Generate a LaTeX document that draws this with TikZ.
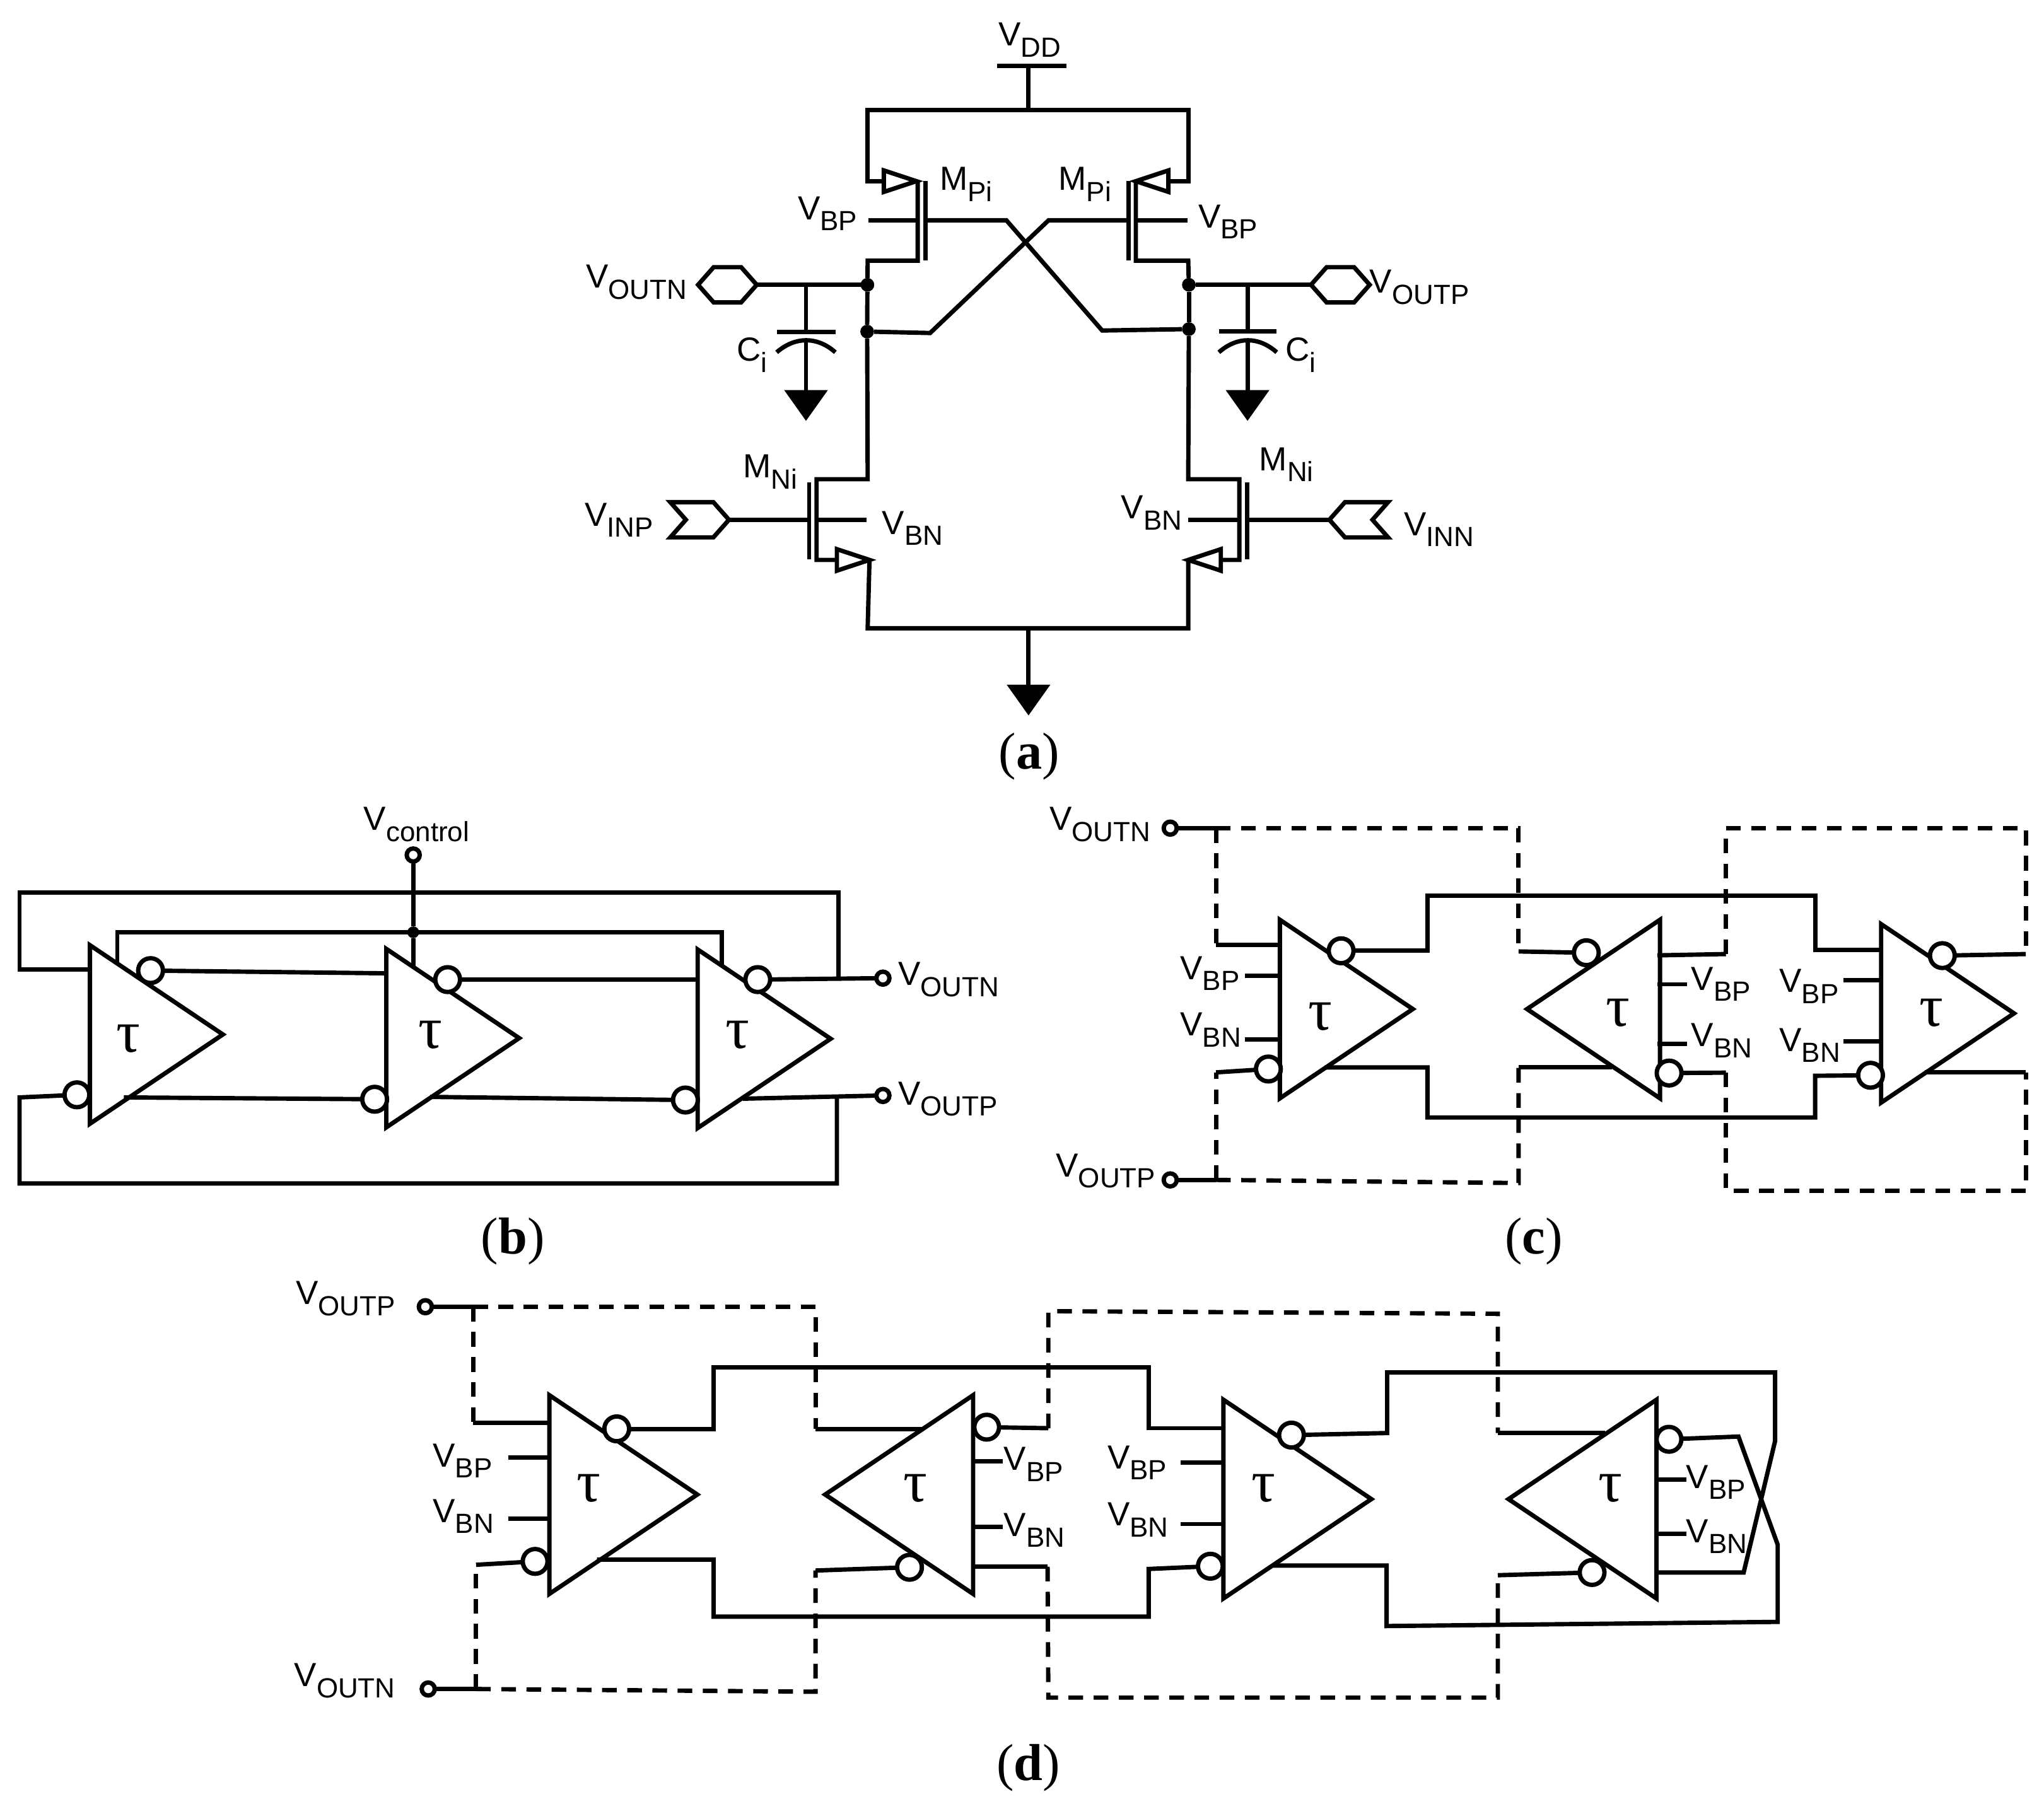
\documentclass[tikz,border=0pt]{standalone}
\usepackage{fontspec}
\setmainfont{Liberation Sans}
\newfontfamily\capfont{Liberation Serif}
\usetikzlibrary{shapes.geometric,shapes.symbols}

\newcommand{\vsig}[2]{#1\raisebox{-4.8pt}{\fontsize{12.1}{12}\selectfont #2}}

\tikzset{
	sig/.style={anchor=base west,inner sep=0pt,xshift=-.9pt,font=\fontsize{14.6}{16}\selectfont},
	figcap/.style={anchor=base,inner sep=0pt,font=\capfont\fontsize{22.7}{24}\selectfont},
	tau/.style={inner sep=0pt,font=\capfont\fontsize{26}{28}\selectfont},
	ampb/.style={isosceles triangle,isosceles triangle stretches,draw,anchor=apex,inner sep=0pt,outer sep=0pt,minimum width=2.74cm,minimum height=2.04cm},
	ampd/.style={ampb,minimum width=3.05cm,minimum height=2.27cm},
	mosarrow/.style={isosceles triangle,isosceles triangle stretches,draw,fill=white,anchor=apex,inner sep=0pt,outer sep=0pt,minimum width=.33cm,minimum height=.5cm},
	gnd/.style={isosceles triangle,isosceles triangle stretches,draw,fill=black,anchor=apex,shape border rotate=270,inner sep=0pt,outer sep=0pt,minimum width=.54cm,minimum height=.38cm},
	port/.style={signal,draw,inner sep=0pt,outer sep=0pt,signal pointer angle=97,minimum width=.9cm,minimum height=.54cm},
	bub/.style={circle,draw,fill=white,inner sep=0pt,outer sep=0pt,minimum size=.38cm},
	term/.style={circle,draw,fill=white,inner sep=0pt,outer sep=0pt,minimum size=.2cm},
	dot/.style={circle,fill=black,inner sep=0pt,outer sep=0pt,minimum size=.21cm},
	dashline/.style={dash pattern=on 6.4pt off 4.6pt},
}

\begin{document}
\begin{tikzpicture}[x=0.02cm,y=-0.02cm,line width=1.9pt]

	\useasboundingbox (0,0) rectangle (1568,1383.7);

	% (a)
	\node	(avdd)	at	(766,35.2)	[sig]{\vsig{V}{DD}};
	\node	(aoutn)	at	(449.5,221)	[sig]{\vsig{V}{OUTN}};
	\node	(aoutp)	at	(1050.7,224.8)	[sig]{\vsig{V}{OUTP}};
	\node	(abpl)	at	(612,168.5)	[sig]{\vsig{V}{BP}};
	\node	(abpr)	at	(919.2,174.8)	[sig]{\vsig{V}{BP}};
	\node	(ampl)	at	(721,146)	[sig]{\vsig{M}{Pi}};
	\node	(ampr)	at	(812,146)	[sig]{\vsig{M}{Pi}};
	\node	(acil)	at	(565,277)	[sig]{\vsig{C}{i}};
	\node	(acir)	at	(986,277)	[sig]{\vsig{C}{i}};
	\node	(amnl)	at	(570,366.6)	[sig]{\vsig{M}{Ni}};
	\node	(amnr)	at	(966,361)	[sig]{\vsig{M}{Ni}};
	\node	(ainp)	at	(448.5,403.6)	[sig]{\vsig{V}{INP}};
	\node	(ainn)	at	(1077,411)	[sig]{\vsig{V}{INN}};
	\node	(abnl)	at	(676.6,410)	[sig]{\vsig{V}{BN}};
	\node	(abnr)	at	(860,398)	[sig]{\vsig{V}{BN}};

	\node	(apl)	at	(703,139)	[mosarrow]{};
	\node	(apr)	at	(871.3,139)	[mosarrow,shape border rotate=180]{};
	\node	(anl)	at	(667,429.6)	[mosarrow]{};
	\node	(anr)	at	(911.5,429.6)	[mosarrow,shape border rotate=180]{};

	\node	(agl)	at	(618.3,320)	[gnd]{};
	\node	(agr)	at	(957,320)	[gnd]{};
	\node	(agm)	at	(789,546)	[gnd]{};

	\node	(hexl)	at	(558,218.5)	[port,signal to=east and west,signal from=nowhere]{};
	\node	(hexr)	at	(1028.2,218.5)	[port,signal to=east and west,signal from=nowhere]{};
	\node	(chl)	at	(536.7,398.8)	[port,signal to=east,signal from=west]{};
	\node	(chr)	at	(1042.3,398.8)	[port,signal to=west,signal from=east]{};

	\node	(dtl)	at	(665.4,218.5)	[dot]{};
	\node	(dbl)	at	(665.2,254.4)	[dot]{};
	\node	(dtr)	at	(912,218.5)	[dot]{};
	\node	(dbr)	at	(912,252.5)	[dot]{};

	\coordinate	(avt)	at	(789,50.7);
	\coordinate	(avb)	at	(789,84.4);
	\coordinate	(agt)	at	(789,482);

	\draw	(765,50.7)	--	(818,50.7);
	\draw	(avt)	--	(avb);
	\draw	(apl.lower side)	--	(665.6,139)	--	(665.6,84.4)	--	(911.5,84.4)	--	(911.5,139)	--	(apr.lower side);

	\draw	(704,139)	--	(704,200)	--	(665.6,200)	--	(dtl);
	\draw	(710,139)	--	(710,200);
	\draw	(871.3,139)	--	(871.3,200)	--	(911.5,200)	--	(dtr);
	\draw	(865.6,139)	--	(865.6,200);

	\draw	(666,169)	--	(704,169);
	\draw	(710,169)	--	(772,169)	--	(845.5,253.6)	--	(dbr);
	\draw	(dbl)	--	(713.5,255.5)	--	(804.4,169)	--	(865.6,169);
	\draw	(871.3,169)	--	(911,169);

	\draw	(dtl)	--	(dbl);
	\draw	(dtr)	--	(dbr);
	\draw	(hexl.east)	--	(dtl);
	\draw	(dtr)	--	(hexr.west);

	\draw	(618.3,218.5)	--	(618.3,254.8);
	\draw	(595.8,254.8)	--	(640.8,254.8);
	\draw	(595.8,270.3)	..	controls (610,258) and (627,258)	..	(640.8,270.3);
	\draw	(618.3,261.4)	--	(agl.lower side);

	\draw	(957,218.5)	--	(957,254.4);
	\draw	(935,254.4)	--	(979.4,254.4);
	\draw	(935,270.3)	..	controls (949,258) and (965.5,258)	..	(979.4,270.3);
	\draw	(957,261.4)	--	(agr.lower side);

	\draw	(dbl)	--	(665.6,367.7)	--	(626.4,367.7)	--	(626.4,429.6)	--	(anl.lower side);
	\draw	(620.7,370)	--	(620.7,429);
	\draw	(dbr)	--	(911.5,367.7)	--	(950.7,367.7)	--	(950.7,429.6)	--	(anr.lower side);
	\draw	(956.5,370)	--	(956.5,429);

	\draw	(chl.east)	--	(620.7,398.8);
	\draw	(626.4,398.8)	--	(664.7,398.8);
	\draw	(chr.west)	--	(956.5,398.8);
	\draw	(950.7,398.8)	--	(911.5,398.8);

	\draw	(anl.apex)	--	(665.6,482)	--	(911.5,482)	--	(anr.apex);
	\draw	(agt)	--	(agm.lower side);

	\node	(capa)	at	(789.5,590)	[figcap]{(\textbf{a})};

	% (b)
	\node	(bt1)	at	(171,793.7)	[ampb]{};
	\node	(bt2)	at	(398.3,796.5)	[ampb]{};
	\node	(bt3)	at	(637.2,797)	[ampb]{};

	\node	(bu1)	at	(98.5,797)	[tau]{τ};
	\node	(bu2)	at	(330,794)	[tau]{τ};
	\node	(bu3)	at	(566,794)	[tau]{τ};

	\node	(bo1)	at	(115.5,744.7)	[bub]{};
	\node	(bo2)	at	(343.4,751.6)	[bub]{};
	\node	(bo3)	at	(581.3,751.6)	[bub]{};
	\node	(bi1)	at	(59,840)	[bub]{};
	\node	(bi2)	at	(287.4,843.4)	[bub]{};
	\node	(bi3)	at	(525.8,844)	[bub]{};

	\node	(bctl)	at	(317,656)	[term]{};
	\node	(bout)	at	(677.3,750.5)	[term]{};
	\node	(boup)	at	(677.3,840.5)	[term]{};
	\node	(bdot)	at	(317,715.3)	[dot,minimum size=.18cm]{};

	\node	(bvc)	at	(279,637)	[sig]{\vsig{V}{control}};
	\node	(bvn)	at	(689,756)	[sig]{\vsig{V}{OUTN}};
	\node	(bvp)	at	(689,847.7)	[sig]{\vsig{V}{OUTP}};

	\coordinate	(bj1)	at	(68.5,744);
	\coordinate	(bj2)	at	(643.2,749.8);
	\coordinate	(bj3)	at	(642,841);
	\coordinate	(bg1)	at	(90,739);
	\coordinate	(bg2)	at	(317,741);
	\coordinate	(bg3)	at	(553.8,740);

	\draw	(bctl)	--	(bdot);
	\draw	(bdot)	--	(bg2);
	\draw	(bg1)	--	(90,715.3)	--	(553.8,715.3)	--	(bg3);
	\draw	(bj1)	--	(15,744)	--	(15,684.6)	--	(643.2,684.6)	--	(bj2);
	\draw	(bo1)	--	(297.4,746.8);
	\draw	(bo2)	--	(535.8,751.6);
	\draw	(bo3)	--	(bout);
	\draw	(bi1)	--	(15,842)	--	(15,908)	--	(642,908)	--	(bj3);
	\draw	(95,842)	--	(bi2);
	\draw	(330,841.6)	--	(bi3);
	\draw	(569.8,843)	--	(boup);

	\node	(capb)	at	(393.5,962)	[figcap]{(\textbf{b})};

	% (c)
	\node	(ct1)	at	(1083.8,774.2)	[ampb]{};
	\node	(ct2)	at	(1171.4,774.2)	[ampb,shape border rotate=180]{};
	\node	(ct3)	at	(1545,777.5)	[ampb]{};

	\node	(cu1)	at	(1012.8,780)	[tau]{τ};
	\node	(cu2)	at	(1241,777)	[tau]{τ};
	\node	(cu3)	at	(1481.5,777)	[tau]{τ};

	\node	(co1)	at	(1028.8,729.5)	[bub]{};
	\node	(co2)	at	(1216.9,731)	[bub]{};
	\node	(co3)	at	(1490,733.2)	[bub]{};
	\node	(ci1)	at	(973,820.2)	[bub]{};
	\node	(ci2)	at	(1280.4,823.3)	[bub]{};
	\node	(ci3)	at	(1434.9,825)	[bub]{};

	\node	(cout)	at	(897.7,635.4)	[term]{};
	\node	(coup)	at	(897.7,905.3)	[term]{};

	\node	(cvn)	at	(805,637)	[sig]{\vsig{V}{OUTN}};
	\node	(cvp)	at	(810,902.8)	[sig]{\vsig{V}{OUTP}};
	\node	(cbp1)	at	(905.3,751.6)	[sig]{\vsig{V}{BP}};
	\node	(cbn1)	at	(905.3,794.8)	[sig]{\vsig{V}{BN}};
	\node	(cbp2)	at	(1297.4,759.8)	[sig]{\vsig{V}{BP}};
	\node	(cbn2)	at	(1297.4,803)	[sig]{\vsig{V}{BN}};
	\node	(cbp3)	at	(1365,761.3)	[sig]{\vsig{V}{BP}};
	\node	(cbn3)	at	(1365,806.6)	[sig]{\vsig{V}{BN}};

	\coordinate	(cj1)	at	(932.8,635.4);
	\coordinate	(cj2)	at	(932.8,725);
	\coordinate	(cj3)	at	(1164.9,730);
	\coordinate	(cj4)	at	(932.8,822.8);
	\coordinate	(cj5)	at	(932.8,905.3);
	\coordinate	(cj6)	at	(1164.9,819);
	\coordinate	(cj7)	at	(1324,732);
	\coordinate	(cj8)	at	(1554,732);
	\coordinate	(cj9)	at	(1324,823);
	\coordinate	(cj10)	at	(1554,822.8);

	\draw	(cout)	--	(cj1);
	\draw	(coup)	--	(cj5);
	\draw	(cj2)	--	(982.8,725);
	\draw	(cj3)	--	(co2);
	\draw	(ci1)	--	(cj4);
	\draw	(cj6)	--	(1236.4,819);
	\draw	(cj7)	--	(1271.4,733);
	\draw	(co3)	--	(cj8);
	\draw	(ci2)	--	(cj9);
	\draw	(cj10)	--	(1476.5,822.8);

	\draw	(co1)	--	(1095,729.5)	--	(1095,687.2)	--	(1392.4,687.2)	--	(1392.4,729)	--	(1444,729);
	\draw	(1016.3,819)	--	(1095,819)	--	(1095,857.4)	--	(1392.4,857.4)	--	(1392.4,825.4)	--	(ci3);

	\draw[dashline]	(cj1)	--	(1164.9,635.4)	--	(cj3);
	\draw[dashline]	(cj1)	--	(cj2);
	\draw[dashline]	(cj5)	--	(1164.9,907.7)	--	(cj6);
	\draw[dashline]	(cj5)	--	(cj4);
	\draw[dashline]	(cj7)	--	(1324,635.4)	--	(1554,635.4)	--	(cj8);
	\draw[dashline]	(cj9)	--	(1324,913.5)	--	(1554,913.5)	--	(cj10);

	\draw	(954.8,748.8)	--	(982.8,748.8);
	\draw	(954.8,797.4)	--	(982.8,797.4);
	\draw	(1271.4,755.2)	--	(1294,755.2);
	\draw	(1271.4,800.8)	--	(1294,800.8);
	\draw	(1414,752.2)	--	(1444,752.2);
	\draw	(1414,799)	--	(1444,799);

	\node	(capc)	at	(1176.5,962)	[figcap]{(\textbf{c})};

	% (d)
	\node	(dt1)	at	(534.9,1146.7)	[ampd]{};
	\node	(dt2)	at	(633,1146.7)	[ampd,shape border rotate=180]{};
	\node	(dt3)	at	(1052,1150.2)	[ampd]{};
	\node	(dt4)	at	(1157.2,1150.2)	[ampd,shape border rotate=180]{};

	\node	(du1)	at	(451.5,1142)	[tau]{τ};
	\node	(du2)	at	(702,1142)	[tau]{τ};
	\node	(du3)	at	(969.4,1142)	[tau]{τ};
	\node	(du4)	at	(1235.3,1142)	[tau]{τ};

	\node	(do1)	at	(473.1,1096.3)	[bub]{};
	\node	(do2)	at	(756.9,1095)	[bub]{};
	\node	(do3)	at	(990.7,1101.1)	[bub]{};
	\node	(do4)	at	(1280.3,1104.3)	[bub]{};
	\node	(di1)	at	(410.5,1198)	[bub]{};
	\node	(di2)	at	(697.7,1202.5)	[bub]{};
	\node	(di3)	at	(928.5,1201.7)	[bub]{};
	\node	(di4)	at	(1221.3,1206.5)	[bub]{};

	\node	(doup)	at	(326.3,1002.6)	[term]{};
	\node	(dout)	at	(328.5,1295.9)	[term]{};

	\node	(dvp)	at	(227,1000.8)	[sig]{\vsig{V}{OUTP}};
	\node	(dvn)	at	(225.7,1294)	[sig]{\vsig{V}{OUTN}};
	\node	(dbp1)	at	(332,1125.5)	[sig]{\vsig{V}{BP}};
	\node	(dbn1)	at	(332,1168)	[sig]{\vsig{V}{BN}};
	\node	(dbp2)	at	(770,1128)	[sig]{\vsig{V}{BP}};
	\node	(dbn2)	at	(770,1178.6)	[sig]{\vsig{V}{BN}};
	\node	(dbp3)	at	(849.5,1126.8)	[sig]{\vsig{V}{BP}};
	\node	(dbn3)	at	(849.5,1170.6)	[sig]{\vsig{V}{BN}};
	\node	(dbp4)	at	(1293.5,1142)	[sig]{\vsig{V}{BP}};
	\node	(dbn4)	at	(1293.5,1183.4)	[sig]{\vsig{V}{BN}};

	\coordinate	(dj1)	at	(363,1002.6);
	\coordinate	(dj2)	at	(363,1091.8);
	\coordinate	(dj3)	at	(625.6,1096.3);
	\coordinate	(dj4)	at	(365.2,1295.9);
	\coordinate	(dj5)	at	(365.2,1200.6);
	\coordinate	(dj6)	at	(625.6,1205);
	\coordinate	(dj7)	at	(804.2,1095.8);
	\coordinate	(dj8)	at	(1149,1099.5);
	\coordinate	(dj9)	at	(803.6,1202);
	\coordinate	(dj10)	at	(1149,1208.6);

	\draw	(doup)	--	(dj1);
	\draw	(dout)	--	(dj4);
	\draw	(dj2)	--	(421.3,1091.8);
	\draw	(dj3)	--	(708.5,1096.3);
	\draw	(di1)	--	(dj5);
	\draw	(di2)	--	(dj6);
	\draw	(do2)	--	(dj7);
	\draw	(dj8)	--	(1231.3,1099.5);
	\draw	(dj9)	--	(746.5,1202);
	\draw	(di4)	--	(dj10);

	\draw	(do1)	--	(547.4,1096.3)	--	(547.4,1049.3)	--	(881.2,1049.3)	--	(881.2,1095.8)	--	(938.6,1095.8);
	\draw	(458,1196.6)	--	(547.4,1196.6)	--	(547.4,1240.4)	--	(881.2,1240.4)	--	(881.2,1203.8)	--	(di3);
	\draw	(do3)	--	(1064.1,1099.5)	--	(1064.1,1053)	--	(1361.7,1053)	--	(1361.7,1105.6)	--	(1337.6,1206.5)	--	(1270.7,1206.5);
	\draw	(976.7,1201.2)	--	(1063.7,1201.2)	--	(1063.7,1247.6)	--	(1363.7,1244.4)	--	(1363.7,1185.2)	--	(1333.6,1102.2)	--	(do4);

	\draw[dashline]	(dj1)	--	(625.6,1002.6)	--	(dj3);
	\draw[dashline]	(dj1)	--	(dj2);
	\draw[dashline]	(dj4)	--	(625.6,1298)	--	(dj6);
	\draw[dashline]	(dj4)	--	(dj5);
	\draw[dashline]	(dj7)	--	(804.2,1006)	--	(1149,1008)	--	(dj8);
	\draw[dashline]	(dj9)	--	(804.2,1302.5)	--	(1149,1302.5)	--	(dj10);

	\draw	(389.8,1118.4)	--	(421.3,1118.4);
	\draw	(389.8,1165.3)	--	(421.3,1165.3);
	\draw	(746.5,1121)	--	(769,1121);
	\draw	(746.5,1171.4)	--	(769,1171.4);
	\draw	(905.7,1122)	--	(938.6,1122);
	\draw	(905.7,1169.3)	--	(938.6,1169.3);
	\draw	(1270.7,1135.3)	--	(1293.5,1135.3);
	\draw	(1270.7,1176.7)	--	(1293.5,1176.7);

	\node	(capd)	at	(789,1366)	[figcap]{(\textbf{d})};

\end{tikzpicture}
\end{document}
